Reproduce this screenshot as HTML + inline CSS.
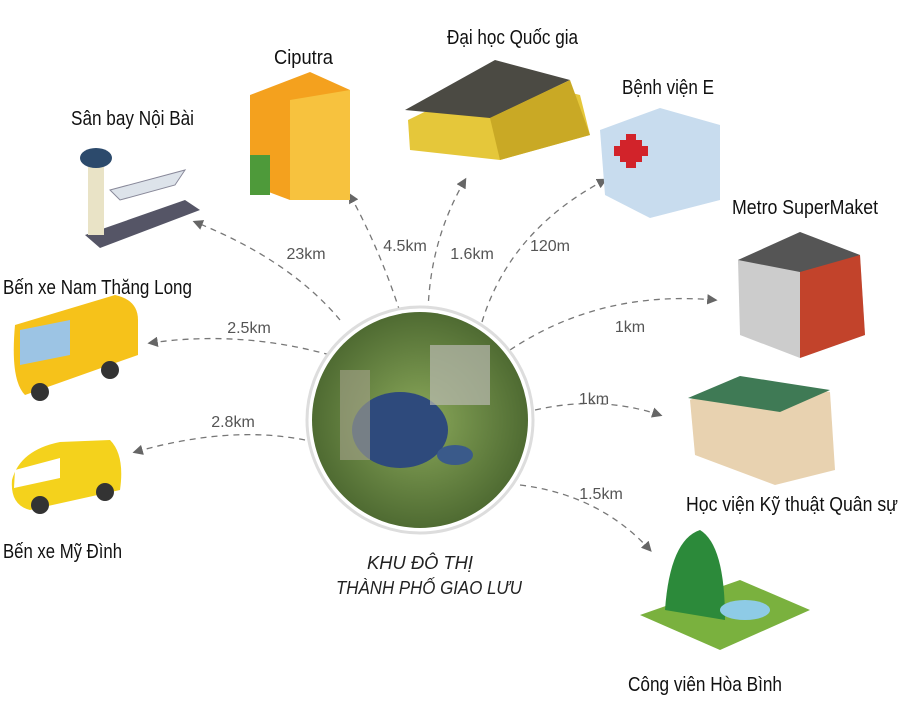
<!DOCTYPE html>
<html><head><meta charset="utf-8"><style>
html,body{margin:0;padding:0;background:#fff}
svg{display:block}
.l{font-family:"Liberation Sans",sans-serif;font-size:20px;fill:#111}
.d{font-family:"Liberation Sans",sans-serif;font-size:16px;fill:#555}
.c{font-family:"Liberation Sans",sans-serif;font-size:18px;font-style:italic;fill:#222}
.a{fill:none;stroke:#777;stroke-width:1.3;stroke-dasharray:6 5}
</style></head><body>
<svg width="900" height="701" viewBox="0 0 900 701" xmlns="http://www.w3.org/2000/svg">
<defs>
<marker id="m" markerWidth="8" markerHeight="8" refX="6" refY="4" orient="auto"><path d="M0,0 L8,4 L0,8 z" fill="#666"/></marker>
<radialGradient id="g" cx="50%" cy="50%" r="50%"><stop offset="0" stop-color="#8aa85a"/><stop offset="1" stop-color="#4f6b32"/></radialGradient>
</defs>
<path class="a" marker-end="url(#m)" d="M340,320 Q290,260 195,222"/>
<path class="a" marker-end="url(#m)" d="M400,312 Q380,250 350,195"/>
<path class="a" marker-end="url(#m)" d="M428,312 Q430,240 465,180"/>
<path class="a" marker-end="url(#m)" d="M482,322 Q510,230 605,180"/>
<path class="a" marker-end="url(#m)" d="M510,350 Q600,290 715,300"/>
<path class="a" marker-end="url(#m)" d="M535,410 Q600,395 660,415"/>
<path class="a" marker-end="url(#m)" d="M520,485 Q600,495 650,550"/>
<path class="a" marker-end="url(#m)" d="M330,355 Q240,330 150,343"/>
<path class="a" marker-end="url(#m)" d="M305,440 Q230,425 135,452"/>
<circle cx="420" cy="420" r="113" fill="#fff" stroke="#ddd" stroke-width="3"/>
<circle cx="420" cy="420" r="108" fill="url(#g)"/>
<ellipse cx="400" cy="430" rx="48" ry="38" fill="#2e4a7c"/>
<ellipse cx="455" cy="455" rx="18" ry="10" fill="#3a5a8a"/>
<rect x="430" y="345" width="60" height="60" fill="#b9b9b0" opacity=".7"/>
<rect x="340" y="370" width="30" height="90" fill="#a7a38e" opacity=".6"/>
<g>
<polygon points="85,235 185,200 200,210 100,248" fill="#556"/>
<rect x="88" y="160" width="16" height="75" fill="#e9e3c6"/><ellipse cx="96" cy="158" rx="16" ry="10" fill="#2c4a6c"/>
<path d="M110,190 L185,170 L175,185 L120,200 z" fill="#dde3ea" stroke="#889"/></g>
<g>
<polygon points="250,95 310,72 350,90 350,200 290,200 250,185" fill="#f4a11e"/>
<polygon points="290,100 350,90 350,200 290,200" fill="#f7c23e"/>
<rect x="250" y="155" width="20" height="40" fill="#4e9a3a"/></g>
<g>
<polygon points="408,120 500,75 580,95 590,135 500,160 410,150" fill="#e5c73a"/>
<polygon points="405,110 495,60 570,80 490,118" fill="#4b4a43"/>
<polygon points="490,118 570,80 590,135 500,160" fill="#c9a925"/></g>
<g>
<polygon points="600,130 660,108 720,125 720,200 650,218 605,195" fill="#c8dcee"/>
<rect x="620" y="140" width="22" height="22" fill="#d2232a"/><rect x="626" y="134" width="10" height="34" fill="#d2232a"/><rect x="614" y="146" width="34" height="10" fill="#d2232a"/></g>
<g>
<polygon points="738,260 800,232 860,255 865,335 800,358 740,335" fill="#ccc"/>
<polygon points="800,260 860,255 865,335 800,358" fill="#c2432b"/>
<polygon points="738,260 800,232 860,255 800,272" fill="#555"/></g>
<g>
<path d="M15,325 L115,295 Q138,300 138,320 L138,355 L25,395 Q10,380 15,325 z" fill="#f6c21a"/>
<path d="M20,330 L70,320 L70,355 L20,365 z" fill="#9cc4e4"/>
<circle cx="40" cy="392" r="9" fill="#333"/><circle cx="110" cy="370" r="9" fill="#333"/></g>
<g>
<path d="M12,480 Q20,450 60,442 L110,440 Q125,455 120,490 L30,510 Q10,505 12,480 z" fill="#f4d21c"/>
<path d="M15,470 L60,458 L60,478 L14,488 z" fill="#fff"/>
<circle cx="40" cy="505" r="9" fill="#333"/><circle cx="105" cy="492" r="9" fill="#333"/></g>
<g>
<polygon points="690,400 735,378 830,392 835,470 775,485 695,455" fill="#e8d2b0"/>
<polygon points="688,398 740,376 830,390 780,412" fill="#3f7a55"/></g>
<g>
<polygon points="640,615 740,580 810,610 720,650" fill="#7ab13e"/>
<path d="M665,610 Q670,540 700,530 Q725,545 725,620 z" fill="#2c8a3a"/>
<ellipse cx="745" cy="610" rx="25" ry="10" fill="#8ecbe6"/></g>
<text class="l" x="274" y="64" textLength="59" lengthAdjust="spacingAndGlyphs">Ciputra</text>
<text class="l" x="447" y="44" textLength="131" lengthAdjust="spacingAndGlyphs">Đại học Quốc gia</text>
<text class="l" x="71" y="125" textLength="123" lengthAdjust="spacingAndGlyphs">Sân bay Nội Bài</text>
<text class="l" x="622" y="94" textLength="92" lengthAdjust="spacingAndGlyphs">Bệnh viện E</text>
<text class="l" x="732" y="214" textLength="146" lengthAdjust="spacingAndGlyphs">Metro SuperMaket</text>
<text class="l" x="3" y="294" textLength="189" lengthAdjust="spacingAndGlyphs">Bến xe Nam Thăng Long</text>
<text class="l" x="3" y="558" textLength="119" lengthAdjust="spacingAndGlyphs">Bến xe Mỹ Đình</text>
<text class="l" x="686" y="511" textLength="212" lengthAdjust="spacingAndGlyphs">Học viện Kỹ thuật Quân sự</text>
<text class="l" x="628" y="691" textLength="154" lengthAdjust="spacingAndGlyphs">Công viên Hòa Bình</text>
<text class="d" x="306" y="259" text-anchor="middle">23km</text>
<text class="d" x="405" y="251" text-anchor="middle">4.5km</text>
<text class="d" x="472" y="259" text-anchor="middle">1.6km</text>
<text class="d" x="550" y="251" text-anchor="middle">120m</text>
<text class="d" x="630" y="332" text-anchor="middle">1km</text>
<text class="d" x="249" y="333" text-anchor="middle">2.5km</text>
<text class="d" x="233" y="427" text-anchor="middle">2.8km</text>
<text class="d" x="594" y="404" text-anchor="middle">1km</text>
<text class="d" x="601" y="499" text-anchor="middle">1.5km</text>
<text class="c" x="367" y="569" textLength="106" lengthAdjust="spacingAndGlyphs">KHU ĐÔ THỊ</text>
<text class="c" x="336" y="594" textLength="186" lengthAdjust="spacingAndGlyphs">THÀNH PHỐ GIAO LƯU</text>
</svg>
</body></html>
